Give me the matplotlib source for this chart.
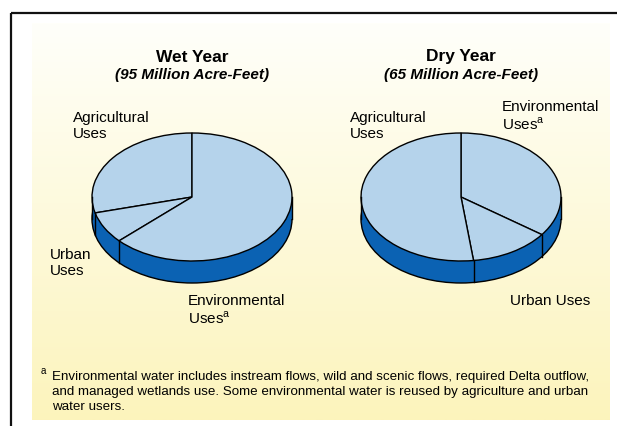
import matplotlib.pyplot as plt
import numpy as np
from matplotlib.patches import Ellipse, Rectangle

plt.rcParams['font.family'] = 'Liberation Sans'
plt.rcParams['mathtext.fontset'] = 'custom'
plt.rcParams['mathtext.rm'] = 'Liberation Sans'

# data (percent of total water use)
wet_labels = ["Agricultural", "Urban", "Environmental"]
wet_values = [29, 8, 63]
dry_labels = ["Environmental", "Urban", "Agricultural"]
dry_values = [35, 13, 52]

light = "#b5d3eb"
dark = "#0b62b3"

W, H = 617, 426
fig = plt.figure(figsize=(W / 100, H / 100), dpi=100)
bg = fig.add_axes([0, 0, 1, 1])
bg.axis("off")

# yellow gradient panel
grad = np.linspace(0, 1, 256)[:, None]
top = np.array([255, 255, 250]) / 255
bot = np.array([252, 244, 188]) / 255
img = top + grad[..., None] * (bot - top)
bg.imshow(img, extent=[32, 610, 420, 23], aspect="auto", zorder=0)
bg.set_xlim(0, W)
bg.set_ylim(H, 0)

# frame lines
bg.plot([11, W], [13, 13], color="#111111", lw=1.6, solid_capstyle="butt")
bg.plot([11, 11], [13, H], color="#111111", lw=1.6, solid_capstyle="butt")


def pie3d(cx, cy, values, counterclock):
    rx, ry, depth = 100, 64, 22
    # axes in pixels: cx-110 .. cx+110, cy-70 .. cy+100
    x0, x1 = cx - 110, cx + 110
    y0, y1 = cy - 70, cy + 100
    ax = fig.add_axes([x0 / W, 1 - y1 / H, (x1 - x0) / W, (y1 - y0) / H])
    d = depth / ry
    ax.add_patch(Ellipse((0, -d), 2, 2, facecolor=dark, edgecolor="black", lw=1.0, zorder=1))
    ax.add_patch(Rectangle((-1, -d), 2, d, facecolor=dark, edgecolor="none", zorder=1))
    ax.plot([-1, -1], [0, -d], color="black", lw=1.0, zorder=2)
    ax.plot([1, 1], [0, -d], color="black", lw=1.0, zorder=2)
    ax.pie(values, startangle=90, counterclock=counterclock, colors=[light] * len(values),
           wedgeprops=dict(edgecolor="black", linewidth=1.0), radius=1)
    # front edges of the wedge boundaries
    sign = 1 if counterclock else -1
    ang = 90 + sign * np.cumsum(values) / np.sum(values) * 360
    for a in ang:
        t = np.deg2rad(a)
        if np.sin(t) < 0:
            ax.plot([np.cos(t), np.cos(t)], [np.sin(t), np.sin(t) - d], color="black", lw=1.0, zorder=3)
    ax.set_aspect("auto")
    ax.set_xlim(-(cx - x0) / rx, (x1 - cx) / rx)
    ax.set_ylim(-(y1 - cy) / ry, (cy - y0) / ry)
    ax.axis("off")


pie3d(192, 197, wet_values, True)
pie3d(461, 197, dry_values, False)

# titles
bg.text(192, 57, "Wet Year", ha="center", va="center", fontsize=12.5, fontweight="bold")
bg.text(192, 75, "(95 Million Acre-Feet)", ha="center", va="center", fontsize=11,
        fontweight="bold", style="italic")
bg.text(461, 57, "Dry Year", ha="center", va="center", fontsize=12.5, fontweight="bold")
bg.text(461, 75, "(65 Million Acre-Feet)", ha="center", va="center", fontsize=11,
        fontweight="bold", style="italic")

lab = dict(ha="left", va="center", fontsize=11, linespacing=1.15)
bg.text(73, 126, wet_labels[0] + "\nUses", **lab)
bg.text(50, 263, wet_labels[1] + "\nUses", **lab)
bg.text(188, 310, wet_labels[2] + "\nUses$^{\\mathrm{a}}$", **lab)
bg.text(350, 126, dry_labels[2] + "\nUses", **lab)
bg.text(502, 116, dry_labels[0] + "\nUses$^{\\mathrm{a}}$", **lab)
bg.text(510, 301, dry_labels[1] + " Uses", **lab)

# footnote
bg.text(41, 371, "a", ha="left", va="center", fontsize=7)
foot = ["Environmental water includes instream flows, wild and scenic flows, required Delta outflow,",
        "and managed wetlands use. Some environmental water is reused by agriculture and urban",
        "water users."]
for i, line in enumerate(foot):
    bg.text(52, 380 + i * 15, line, ha="left", va="baseline", fontsize=9.6)

fig.savefig("out.png", dpi=100)
